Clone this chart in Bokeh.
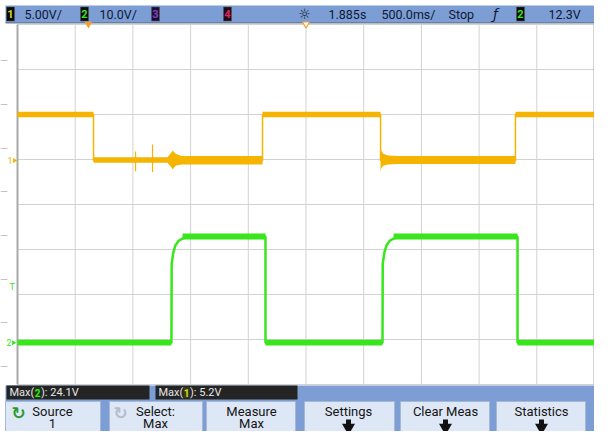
import math
from bokeh.plotting import figure
from bokeh.models import Range1d
from bokeh.core.properties import value
from bokeh.embed import file_html
from bokeh.resources import INLINE

# ------------------------------------------------------------------ data
ch1_label = "5.00V/"
ch2_label = "10.0V/"
delay_label = "1.885s"
timebase_label = "500.0ms/"
run_label = "Stop"
trig_level_label = "12.3V"

time_per_div = 0.5          # s/div
n_xdiv, n_ydiv = 10, 8
delay_s = 1.885
ch1_volts_per_div = 5.0
ch2_volts_per_div = 10.0
ch1_ground_div = 0.98        # ground marker of ch1, divisions above centre
ch2_ground_div = -3.07
trig_level_v = 12.3

# channel 1 (yellow): time [s], volts
ch1_t = [0.0, 0.659, 0.659, 2.123, 2.123, 3.146, 3.146, 4.315, 4.315, 5.0]
ch1_v = [5.1, 5.1, 0.0, 0.0, 5.1, 5.1, 0.0, 0.0, 5.1, 5.1]
# noise envelope of every flat part of ch1
ch1_env_t = [[0.0, 0.659],
             [0.659, 1.30, 1.335, 1.345, 1.37, 1.42, 2.123],
             [2.123, 3.146],
             [3.146, 3.152, 3.17, 3.21, 3.3, 4.315],
             [4.315, 5.0]]
ch1_env_level = [5.1, 0.0, 5.1, 0.0, 5.1]
ch1_env_up = [[0.3, 0.3],
              [0.35, 0.35, 0.9, 1.1, 0.75, 0.5, 0.5],
              [0.3, 0.3],
              [1.45, 1.1, 0.75, 0.55, 0.5, 0.5],
              [0.3, 0.3]]
ch1_env_dn = [[-0.3, -0.3],
              [-0.25, -0.25, -0.8, -1.0, -0.6, -0.45, -0.45],
              [-0.3, -0.3],
              [-1.2, -0.9, -0.6, -0.45, -0.4, -0.4],
              [-0.3, -0.3]]
ch1_spike_t = [1.023, 1.170]
ch1_spike_hi = [1.0, 1.78]
ch1_spike_lo = [-1.2, -1.33]

# channel 2 (green)
ch2_t = [0.0, 1.334, 1.336, 1.350, 1.368, 1.395, 1.435, 1.52, 2.149, 2.149,
         3.163, 3.165, 3.179, 3.197, 3.224, 3.264, 3.35, 4.333, 4.333, 5.0]
ch2_v = [0.0, 0.0, 17.5, 20.0, 21.6, 22.6, 23.2, 23.6, 23.6, 0.0,
         0.0, 17.5, 20.0, 21.6, 22.6, 23.2, 23.6, 23.6, 0.0, 0.0]
ch2_env_t = [[0.0, 1.334], [1.43, 2.149], [2.149, 3.163], [3.259, 4.333], [4.333, 5.0]]
ch2_env_level = [0.0, 23.6, 0.0, 23.6, 0.0]
ch2_env_half = 0.65

# measurements and soft keys
meas = [("Max(", "2", "): 24.1V"), ("Max(", "1", "): 5.2V")]
buttons = [("Source", "1"), ("Select:", "Max"), ("Measure", "Max"),
           ("Settings", ""), ("Clear Meas", ""), ("Statistics", "")]

# ------------------------------------------------------------------ layout
W, H = 594, 431
OFF = 8
def cx(rx): return rx - OFF
def cy(ry): return ry - OFF

GX0, GX1 = 25, 602
GY0, GY1 = 32, 392
span_s = n_xdiv * time_per_div
s_per_px = span_s / (GX1 - GX0)
x_start = -cx(GX0) * s_per_px
x_end = (W - cx(GX0)) * s_per_px
div_per_px = n_ydiv / (GY1 - GY0)
yc = cy((GY0 + GY1) / 2)
y_top = yc * div_per_px
y_bot = -(H - yc) * div_per_px

YEL = "#f5b400"
GRN = "#38e61c"
BLUE = "#7c9ed4"
GRID = "#d2d2d2"
FONT = "Roboto"

p = figure(width=W, height=H, x_range=Range1d(x_start, x_end), y_range=Range1d(y_bot, y_top),
           output_backend="svg", toolbar_location=None,
           x_axis_location=None, y_axis_location=None, min_border=0,
           outline_line_color=None, background_fill_color="white", border_fill_color="white")
p.grid.visible = False
p.extra_x_ranges = {"px": Range1d(0, W)}
p.extra_y_ranges = {
    "px": Range1d(H, 0),
    "ch1": Range1d((y_bot - ch1_ground_div) * ch1_volts_per_div, (y_top - ch1_ground_div) * ch1_volts_per_div),
    "ch2": Range1d((y_bot - ch2_ground_div) * ch2_volts_per_div, (y_top - ch2_ground_div) * ch2_volts_per_div),
}
PX = dict(x_range_name="px", y_range_name="px")

# graticule
xt = [i * time_per_div for i in range(n_xdiv + 1)]
yt = [j - n_ydiv / 2 for j in range(n_ydiv + 1)]
p.segment(x0=xt, y0=[yt[0]] * len(xt), x1=xt, y1=[yt[-1]] * len(xt), line_color=GRID, line_width=1)
p.segment(x0=[xt[0]] * len(yt), y0=yt, x1=[xt[-1]] * len(yt), y1=yt, line_color=GRID, line_width=1)
p.segment(x0=[xt[0], xt[-1]], y0=[yt[0], yt[0]], x1=[xt[0], xt[-1]], y1=[yt[-1], yt[-1]],
          line_color="#a9a9a9", line_width=2)

# channel 2 trace
for ts, lv in zip(ch2_env_t, ch2_env_level):
    p.varea(x=ts, y1=[lv - ch2_env_half] * len(ts), y2=[lv + ch2_env_half] * len(ts),
            fill_color=GRN, y_range_name="ch2")
p.line(ch2_t, ch2_v, line_color=GRN, line_width=2.5, y_range_name="ch2")

# channel 1 trace
for ts, lv, up, dn in zip(ch1_env_t, ch1_env_level, ch1_env_up, ch1_env_dn):
    p.varea(x=ts, y1=[lv + d for d in dn], y2=[lv + u for u in up], fill_color=YEL, y_range_name="ch1")
p.line(ch1_t, ch1_v, line_color=YEL, line_width=1.5, y_range_name="ch1")
p.segment(x0=ch1_spike_t, y0=ch1_spike_lo, x1=ch1_spike_t, y1=ch1_spike_hi,
          line_color=YEL, line_width=1.2, y_range_name="ch1")

# helpers for decoration
def box(l, t, r, b, color, line=None, lw=1):
    p.quad(left=[cx(l)], right=[cx(r)], top=[cy(t)], bottom=[cy(b)],
           fill_color=color, line_color=line, line_width=lw, **PX)

def txt(rx, ry, s, color, size, align="left", font=FONT, style="normal"):
    p.text(x=[cx(rx)], y=[cy(ry)], text=[s], text_color=color, text_font=value(font),
           text_font_size=f"{size}px", text_align=align, text_baseline="middle",
           text_font_style=style, **PX)

# left margin scale ticks
for ry in [68, 112, 156, 199, 243, 287, 330, 374]:
    p.segment(x0=[cx(8)], y0=[cy(ry)], x1=[cx(15)], y1=[cy(ry)], line_color="#c4c4c4", line_width=1, **PX)

# channel / trigger markers on the left edge
p.text(x=[cx(15)], y=[0.0], text=["1"], text_color=YEL, text_font=value(FONT), text_font_size="9px",
       text_baseline="middle", x_range_name="px", y_range_name="ch1")
p.scatter(x=[cx(22)], y=[0.0], marker="triangle", angle=-math.pi / 2, size=5, fill_color=YEL,
          line_color=None, x_range_name="px", y_range_name="ch1")
p.text(x=[cx(14)], y=[0.0], text=["2"], text_color=GRN, text_font=value(FONT), text_font_size="9px",
       text_baseline="middle", x_range_name="px", y_range_name="ch2")
p.scatter(x=[cx(21)], y=[0.0], marker="triangle", angle=-math.pi / 2, size=5, fill_color=GRN,
          line_color=None, x_range_name="px", y_range_name="ch2")
p.text(x=[cx(17)], y=[trig_level_v], text=["T"], text_color=GRN, text_font=value(FONT), text_font_size="9px",
       text_baseline="middle", x_range_name="px", y_range_name="ch2")

# header bar
box(13, 13, 603, 30, BLUE)
box(13, 29.5, 603, 31, "#6b7f9f")
HY = 21.5
HC = "#0e1836"
HS = 12.5
def badge(l, digit, fg, bg="#0a0a0a"):
    box(l, 14.5, l + 8, 28.5, bg, line="#555555", lw=0.5)
    txt(l + 4, HY, digit, fg, 11, align="center", style="bold")

badge(14, "1", "#d6dc1e")
txt(32, HY, ch1_label, HC, HS)
badge(88, "2", GRN)
txt(107, HY, ch2_label, HC, HS)
badge(159, "3", "#8a3cc8", bg="#1a1030")
badge(231, "4", "#e0206e", bg="#1e0a14")
txt(312, HY, "\u263c", HC, 14, align="center", font="DejaVu Sans")
txt(336, HY, delay_label, HC, HS)
txt(389, HY, timebase_label, HC, HS)
txt(456, HY, run_label, HC, HS)
txt(503, HY, "\u0192", HC, 14, align="center", font="DejaVu Sans", style="italic")
badge(524, "2", GRN)
txt(556, HY, trig_level_label, HC, HS)

# trigger point and time reference markers
p.scatter(x=[span_s / 2 - delay_s], y=[cy(31.5)], marker="inverted_triangle", size=8,
          fill_color="#f0a030", line_color=None, y_range_name="px")
p.scatter(x=[span_s / 2], y=[cy(31.5)], marker="inverted_triangle", size=7,
          fill_color="white", line_color="#f0a030", line_width=1.2, y_range_name="px")

# footer
box(13, 393, 603, 447, BLUE)
MY = 400
for (l, r), (a, d, b), dcol in zip([(14, 157), (163, 305)], meas, [GRN, "#d6dc1e"]):
    box(l, 393, r, 407, "#242424")
    txt(l + 3, MY, a, "#e6e6e6", 11)
    box(l + 28, 394.5, l + 34, 405.5, "#1c3a12" if dcol == GRN else "#3a3a10")
    txt(l + 31, MY, d, dcol, 10, align="center", style="bold")
    txt(l + 34.5, MY, b, "#e6e6e6", 11)

BTN = [(13, 108), (117, 210), (214, 303), (312, 402), (408, 497), (504, 593)]
centers = [60, 163, 259, 356, 453, 549]
for (l, r), c, (l1, l2) in zip(BTN, centers, buttons):
    box(l, 409, r, 447, "#dee7f5", line="#a7b8d6")
    txt(c, 419, l1, "#141414", 13, align="center")
    if l2:
        txt(c, 431, l2, "#141414", 13, align="center")
    else:
        box(c - 2.5, 427, c + 2.5, 433, "#111111")
        p.scatter(x=[cx(c)], y=[cy(435)], marker="inverted_triangle", size=13,
                  fill_color="#111111", line_color=None, **PX)

txt(26, 420, "\u21bb", "#2c9a2c", 17, align="center", font="DejaVu Sans", style="bold")
txt(128, 420, "\u21bb", "#b4bccb", 17, align="center", font="DejaVu Sans", style="bold")

open("out.html", "w").write(file_html(p, INLINE))
